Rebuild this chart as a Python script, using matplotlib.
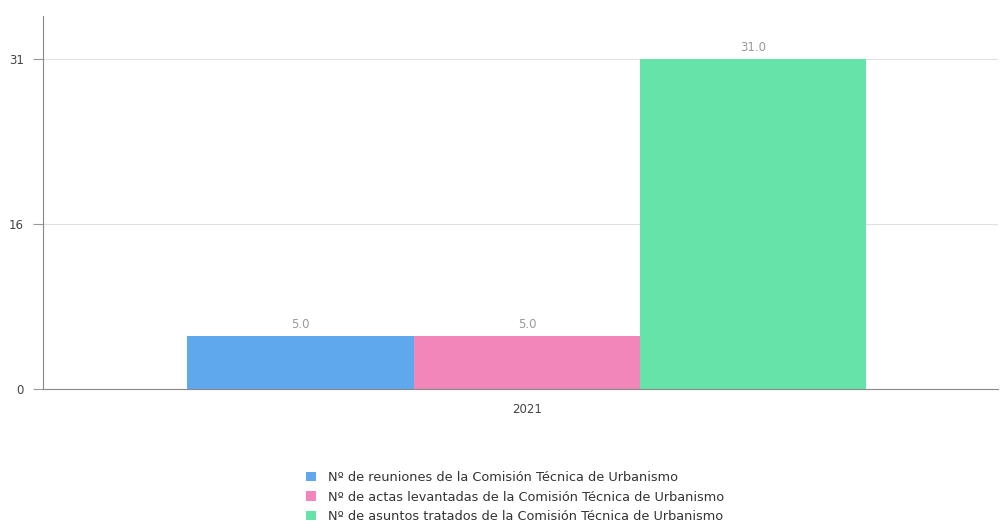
import matplotlib.pyplot as plt

# datos de la comisión
anios = ["2021"]
series = [
    "Nº de reuniones de la Comisión Técnica de Urbanismo",
    "Nº de actas levantadas de la Comisión Técnica de Urbanismo",
    "Nº de asuntos tratados de la Comisión Técnica de Urbanismo",
]
valores = [5.0, 5.0, 31.0]
colores = ["#60a8ee", "#f285ba", "#66e3a8"]

fig = plt.figure(figsize=(10, 5.25), dpi=100)
ax = fig.add_axes([0.043, 0.259, 0.955, 0.7105])

ancho = 0.237
for i, (nombre, v, c) in enumerate(zip(series, valores, colores)):
    x = (i - 1) * ancho
    ax.bar(x, v, width=ancho, color=c, label=nombre, zorder=2)
    ax.text(x, v + 0.4, "{:.1f}".format(v), ha="center", va="bottom",
            fontsize=8.5, color="#999999")

# ejes: tres marcas repartidas entre 0 y el máximo
maximo = max(valores)
ax.set_xlim(-0.5068, 0.4932)
ax.set_ylim(0, 35)
ax.set_xticks([0])
ax.set_xticklabels(anios)
ax.set_yticks([0, maximo / 2, maximo])
ax.set_yticklabels(["0", "{:.0f}".format(round(maximo / 2 + 0.01)), "{:.0f}".format(maximo)])
ax.tick_params(axis="x", length=0, pad=10, labelsize=8.5, labelcolor="#444444")
ax.tick_params(axis="y", length=7, width=0.8, color="#999999", labelsize=8.5,
               labelcolor="#444444", pad=7)
ax.grid(axis="y", color="#e0e0e0", linewidth=0.8, zorder=0)
for lado in ["top", "right"]:
    ax.spines[lado].set_visible(False)
ax.spines["left"].set_color("#888888")
ax.spines["bottom"].set_color("#888888")

ley = fig.legend(loc="center", bbox_to_anchor=(0.515, 0.0533), frameon=False,
                 fontsize=9.3, handlelength=0.75, handleheight=0.75,
                 handletextpad=0.9, labelspacing=0.5)
for t in ley.get_texts():
    t.set_color("#333333")

fig.savefig("out.png", dpi=100, facecolor="white")
